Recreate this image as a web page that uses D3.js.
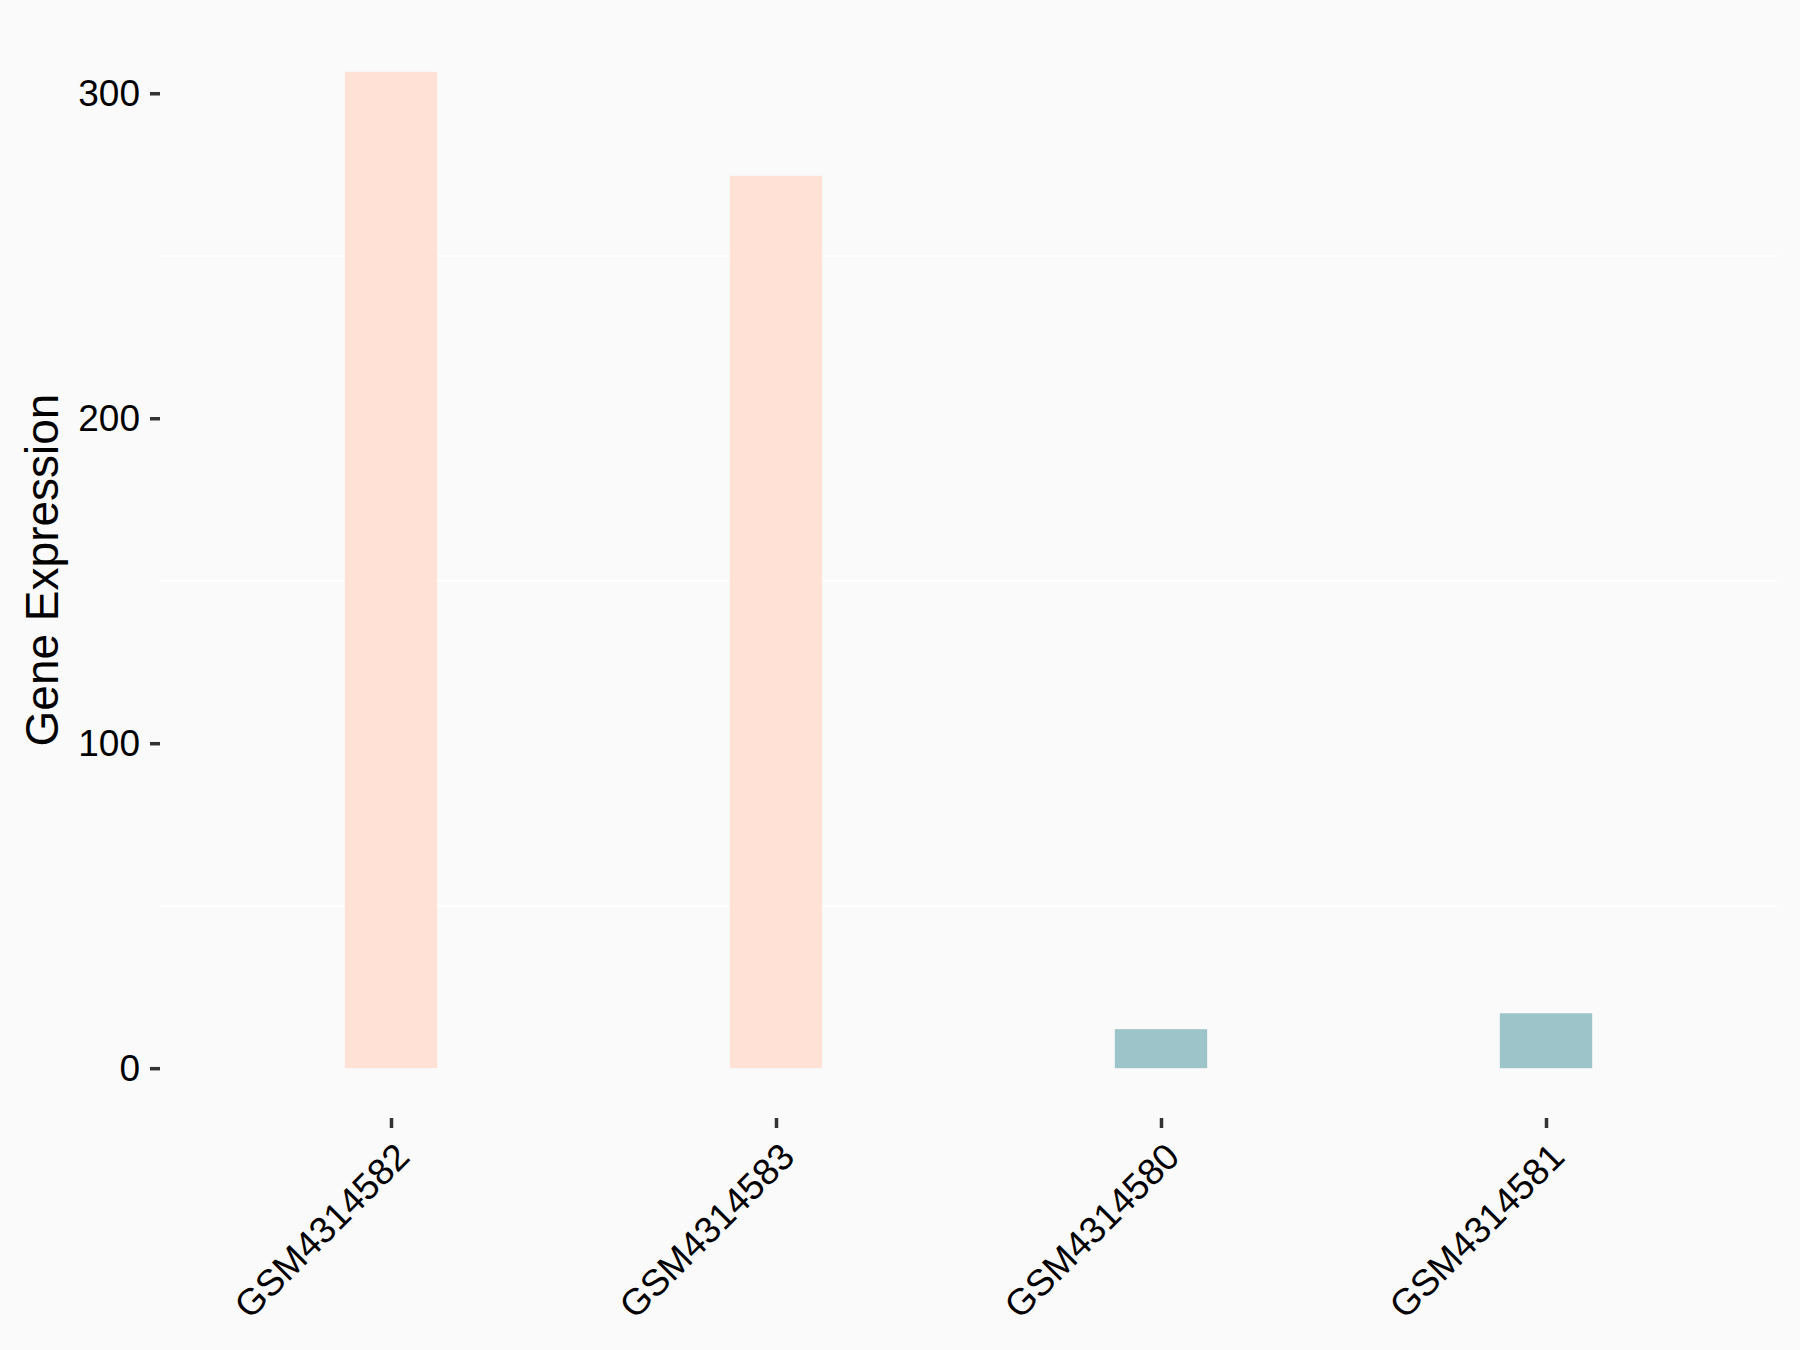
<!DOCTYPE html>
<html lang="en">
<head>
    <meta charset="UTF-8">
    <title>Gene Expression</title>
    <style>
        body { margin: 0; background: #fafafa; }
        text { font-family: "Liberation Sans", Arial, sans-serif; }
    </style>
</head>
<body>
    <script src="https://d3js.org/d3.v7.min.js"></script>
    <script>
        const width = 1800,
            height = 1350;

        const samples = ['GSM4314582', 'GSM4314583', 'GSM4314580', 'GSM4314581'];
        const expression = [306.6, 274.6, 12.0, 16.9];
        const groups = ['high', 'high', 'low', 'low'];
        const yTicks = [0, 100, 200, 300];
        const yMinor = [50, 150, 250];

        const colors = d3.scaleOrdinal().domain(['high', 'low']).range(['#ffe1d6', '#9dc4c8']);

        const margin = { top: 22, right: 23, bottom: 232, left: 160 };
        const yMax = d3.max(expression);

        const x = d3.scalePoint()
            .domain(samples)
            .range([margin.left, width - margin.right])
            .padding(0.6);

        const y = d3.scaleLinear()
            .domain([-0.05 * yMax, yMax * 1.05])
            .range([height - margin.bottom, margin.top]);

        const barWidth = x.step() * 0.24;

        const svg = d3.select('body').append('svg')
            .attr('width', width).attr('height', height)
            .style('display', 'block');

        svg.append('rect')
            .attr('width', width).attr('height', height)
            .attr('fill', '#fafafa');

        // grid
        svg.append('g')
            .selectAll('line')
            .data(yMinor)
            .enter().append('line')
            .attr('x1', margin.left).attr('x2', width - margin.right)
            .attr('y1', d => y(d)).attr('y2', d => y(d))
            .attr('stroke', '#ffffff')
            .attr('stroke-width', 2);

        // bars
        svg.append('g')
            .selectAll('rect')
            .data(samples)
            .enter().append('rect')
            .attr('x', d => x(d) - barWidth / 2)
            .attr('width', barWidth)
            .attr('y', (d, i) => y(expression[i]))
            .attr('height', (d, i) => y(0) - y(expression[i]))
            .attr('fill', (d, i) => colors(groups[i]));

        // y axis
        const yAxis = svg.append('g')
            .attr('transform', `translate(${margin.left},0)`)
            .call(d3.axisLeft(y).tickValues(yTicks).tickSize(10).tickPadding(10));
        yAxis.select('.domain').remove();
        yAxis.selectAll('line').attr('stroke', '#333333').attr('stroke-width', 3.5);
        yAxis.selectAll('text')
            .attr('fill', '#000')
            .style('font-size', '37px');

        // x axis
        const xAxis = svg.append('g')
            .attr('transform', `translate(0,${height - margin.bottom})`)
            .call(d3.axisBottom(x).tickSize(10));
        xAxis.select('.domain').remove();
        xAxis.selectAll('line').attr('stroke', '#333333').attr('stroke-width', 3.5);
        xAxis.selectAll('text')
            .attr('fill', '#000')
            .style('font-size', '37px')
            .attr('text-anchor', 'end')
            .attr('dy', null)
            .attr('y', 0)
            .attr('transform', 'translate(20,41) rotate(-45)');

        // y title
        svg.append('text')
            .attr('transform', `translate(58,${(margin.top + height - margin.bottom) / 2}) rotate(-90)`)
            .attr('text-anchor', 'middle')
            .style('font-size', '46px')
            .attr('fill', '#000')
            .text('Gene Expression');
    </script>
</body>
</html>
